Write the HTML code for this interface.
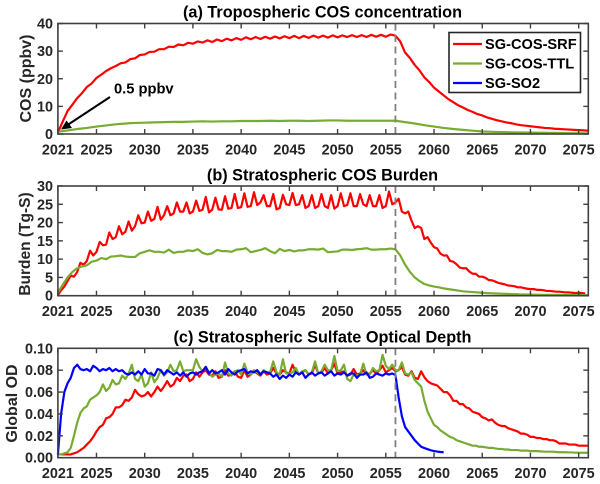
<!DOCTYPE html>
<html><head><meta charset="utf-8"><style>
html,body{margin:0;padding:0;background:#fff;width:600px;height:484px;overflow:hidden}
svg{display:block}
text{font-family:"Liberation Sans",Arial,sans-serif;font-weight:bold}
</style></head><body>
<svg id="fig" width="600" height="484" viewBox="0 0 600 484" xmlns="http://www.w3.org/2000/svg"></svg>
<script>
var xTickYears = [2021,2025,2030,2035,2040,2045,2050,2055,2060,2065,2070,2075];
var aTicks = ['0','10','20','30','40'];
var bTicks = ['0','5','10','15','20','25','30'];
var cTicks = ['0.00','0.02','0.04','0.06','0.08','0.10'];
var aTitle = '(a) Tropospheric COS concentration';
var bTitle = '(b) Stratospheric COS Burden';
var cTitle = '(c) Stratospheric Sulfate Optical Depth';
var eventYear = 2056;

// Panel a: half-yearly from 2021
var aSrf = [.5,4.5,8.3,10.6,13,14.8,17,18.3,20.3,21.5,22.8,23.8,24.6,25.6,25.9,27.1,27.4,28.6,28.8,29.7,29.8,30.7,30.7,31.6,31.5,32.4,32.1,33,32.7,33.5,33.1,33.9,33.3,34.2,33.6,34.5,33.9,34.7,34.1,35,34.3,35.1,34.4,35.2,34.5,35.3,34.6,35.4,34.7,35.5,34.7,35.5,34.8,35.6,34.9,35.6,34.9,35.7,35,35.7,35.1,35.8,35.1,35.8,35.1,35.9,35.2,35.9,35.2,36,35.6,33.5,29.5,27.5,25,23,20.5,18.8,16.8,15.4,14,12.6,11.5,10.4,9.6,8.7,8,7.2,6.7,6,5.5,5,4.6,4.2,3.9,3.5,3.2,3,2.8,2.6,2.4,2.2,2.1,1.9,1.8,1.7,1.6,1.5,1.4,1.3,1.2];
// Panel a: yearly from 2021
var aTtl = [.8,1.3,1.8,2.2,2.7,3.1,3.5,3.8,4,4.1,4.2,4.3,4.4,4.4,4.5,4.6,4.5,4.6,4.6,4.7,4.7,4.7,4.8,4.7,4.8,4.8,4.7,4.8,4.9,4.9,4.8,4.8,4.8,4.8,4.8,4.8,4.3,3.8,3.2,2.7,2.2,1.8,1.5,1.2,.9,.8,.7,.6,.55,.5,.45,.4,.35,.3,.3,.25];

// Panel b red: three samples per year from 2021
var bSrf = [.2,1.5,2.5,4,5.5,5.2,6.5,9,8.5,9.5,12.3,11,12,14.7,13.8,14,17.3,15.5,16,19,16.8,17.5,20.3,17.8,19,22,19.8,20,23,20.5,21,24.3,20.8,22,24.5,22,22.5,25.5,23,23,25.5,22.5,23,26,23.2,23.5,27,22.8,23.5,26.8,23.6,23.5,27.2,23.8,24,27.8,24,24.2,28,24.3,24.5,28.3,24.8,25.5,27.5,24.5,24.5,27.8,23.6,24,27.6,25,24.8,28.1,24.8,25,27.5,24,24.5,27.5,24,24.5,27.8,24.5,24,27.5,23.8,24.5,28,24.5,24.8,28,24.5,24.5,27.8,25,24.5,27.5,24.5,24.5,27.5,24,24.5,28.5,25,25.5,26.5,23,22.5,23,20.5,18.5,19,18.5,15.5,16,14.5,13.3,12.9,11.5,11,11,9.5,9.3,8.6,7.7,7.5,7.5,6.6,6,6,5.2,5.2,4.9,4.3,4.2,3.9,3.5,3.3,3.1,2.8,2.7,2.6,2.3,2.3,2.1,1.9,1.8,1.8,1.6,1.6,1.5,1.3,1.3,1.2,1.1,1.1,1,.9,.9,.8,.7,.8,.7,.6];
// Panel b green: half-yearly from 2021
var bTtl = [.8,3,5,6.5,7.5,8,8.3,9.3,9.6,10.3,10,10.7,10.8,11,10.7,10.6,10.6,11.6,12,12.4,12,12,11.8,12.6,11.7,12,12,12.4,12.2,12.7,11.7,11.3,11.6,12.5,12.2,12.2,12,12.6,12.7,13,11.9,12.2,12.5,13,12.2,11.6,12.8,12.2,12.5,12.1,12.4,12.4,12.7,12.7,12.6,12.9,11.9,12,12.1,12.6,12.6,12.5,12.7,12.8,13,12.6,12.6,12.7,12.7,12.9,12.7,11,8.5,6.5,5,4,3.2,2.8,2.5,2.3,2,1.8,1.6,1.4,1.2,1.1,1,.9,.8,.7,.65,.6,.55,.5,.45,.4,.35,.33,.3,.28,.25,.24,.22,.2,.2,.18,.17,.16,.15,.15,.14];

// Panel c: three samples per year from 2021
var cSrf = [.003,.003,.003,.003,.003,.004,.005,.007,.009,.012,.015,.019,.024,.028,.03,.036,.037,.04,.046,.046,.048,.053,.052,.055,.062,.058,.056,.057,.06,.056,.06,.065,.061,.065,.07,.065,.067,.073,.07,.075,.076,.07,.072,.078,.074,.078,.08,.076,.075,.079,.073,.074,.08,.075,.076,.079,.074,.073,.08,.074,.076,.079,.077,.075,.079,.076,.077,.082,.077,.076,.08,.078,.077,.085,.078,.076,.078,.08,.076,.077,.085,.077,.078,.082,.077,.08,.086,.077,.078,.079,.075,.076,.081,.076,.077,.08,.076,.077,.08,.077,.08,.084,.078,.08,.082,.079,.08,.083,.076,.075,.079,.073,.072,.079,.0735,.07,.068,.067,.066,.063,.06,.06,.057,.052,.052,.049,.049,.046,.045,.042,.041,.04,.037,.036,.034,.035,.032,.03,.029,.029,.027,.026,.025,.024,.022,.022,.021,.019,.019,.018,.018,.017,.017,.016,.016,.015,.013,.013,.013,.012,.012,.012,.011,.011,.011,.011];
var cTtl = [.003,.003,.004,.005,.009,.02,.032,.041,.045,.047,.053,.055,.057,.06,.067,.061,.064,.071,.067,.068,.075,.072,.077,.085,.072,.07,.076,.065,.068,.078,.069,.073,.08,.075,.078,.085,.079,.08,.088,.079,.08,.08,.08,.09,.083,.079,.083,.078,.074,.076,.077,.074,.087,.077,.075,.079,.08,.076,.086,.078,.076,.08,.078,.076,.08,.078,.078,.088,.078,.076,.09,.077,.077,.078,.082,.076,.079,.08,.076,.078,.088,.077,.079,.085,.08,.08,.093,.079,.08,.085,.072,.07,.076,.075,.076,.086,.076,.076,.082,.079,.08,.094,.084,.081,.085,.08,.08,.087,.077,.076,.078,.071,.068,.065,.052,.042,.036,.03,.028,.025,.023,.021,.019,.018,.016,.015,.014,.013,.012,.011,.011,.01,.01,.0095,.009,.009,.0085,.008,.008,.0075,.0075,.007,.007,.007,.0065,.0065,.0065,.006,.006,.006,.0058,.0056,.0055,.0055,.0055,.0052,.005,.005,.005,.0048,.0048,.0046,.0046,.0045,.0045,.0045];
var cSo2 = [.003,.04,.06,.068,.073,.082,.085,.081,.08,.081,.079,.084,.082,.079,.081,.08,.082,.079,.081,.079,.08,.077,.076,.078,.076,.079,.076,.081,.077,.077,.075,.081,.08,.076,.08,.078,.076,.078,.075,.078,.074,.077,.078,.076,.078,.079,.083,.077,.08,.077,.078,.08,.076,.081,.078,.076,.079,.08,.081,.077,.079,.078,.08,.076,.079,.078,.077,.074,.076,.072,.075,.073,.076,.074,.078,.076,.078,.073,.076,.078,.075,.077,.078,.075,.077,.079,.075,.077,.076,.078,.075,.077,.077,.073,.076,.076,.078,.073,.074,.077,.076,.075,.077,.076,.077,.0756,.055,.038,.028,.024,.02,.016,.013,.01,.0088,.0078,.0068,.0061,.0056,.0052,.005];

var legendNames = ['SG-COS-SRF','SG-COS-TTL','SG-SO2'];
var RED = '#ff0000', GREEN = '#77ac30', BLUE = '#0000ff';
var svg = document.getElementById('fig');
var NS = 'http://www.w3.org/2000/svg';
var X0 = 57.9, XPY = 9.644;
function xOf(year){ return X0 + (year - 2021) * XPY; }

function mk(parent, tag, attrs, txt){
  var e = document.createElementNS(NS, tag);
  for (var k in attrs) e.setAttribute(k, attrs[k]);
  if (txt !== undefined) e.textContent = txt;
  parent.appendChild(e);
  return e;
}

function drawPanel(id, top, bottom, ymax, ticks, title, titleY, ylabel, ylabelX, ylabelY, ylabelSize, series){
  var left = xOf(2021), right = xOf(2076);
  var yOf = function(v){ return bottom - (v / ymax) * (bottom - top); };
  var g = mk(svg, 'g', {});
  
  

  var t = mk(g, 'text', {x: 322.5, y: titleY, 'text-anchor': 'middle', 'font-size': 16.25, fill: '#000'}, title);
  
  

  var yl = mk(g, 'text', {x: 0, y: 0, transform: 'translate(' + ylabelX + ',' + ylabelY + ') rotate(-90)', 'text-anchor': 'middle', 'font-size': ylabelSize, fill: '#262626'}, ylabel);
  
  

  series.forEach(function(s){
    var pts = s.values.map(function(v, i){
      return xOf(2021 + i * s.step).toFixed(2) + ',' + yOf(v).toFixed(2);
    }).join(' ');
    var p = mk(g, 'polyline', {points: pts, fill: 'none', stroke: s.color, 'stroke-width': 2.2, 'stroke-linejoin': 'round'});
    
    
  });

  var d = mk(g, 'line', {x1: xOf(eventYear), x2: xOf(eventYear), y1: top, y2: bottom, stroke: '#808080', 'stroke-width': 1.8, 'stroke-dasharray': '7 4.5'});
  
  

  var f = mk(g, 'rect', {x: left, y: top, width: right - left, height: bottom - top, fill: 'none', stroke: '#404040', 'stroke-width': 1.6});
  
  

  xTickYears.forEach(function(yr){
    var x = xOf(yr);
    mk(g, 'line', {x1: x, x2: x, y1: bottom, y2: bottom - 5, stroke: '#404040', 'stroke-width': 1.4});
    mk(g, 'line', {x1: x, x2: x, y1: top, y2: top + 5, stroke: '#404040', 'stroke-width': 1.4});
    var l = mk(g, 'text', {x: x, y: bottom + 20.5, 'text-anchor': 'middle', 'font-size': 14.4, fill: '#262626'}, String(yr));
    
    
  });
  ticks.forEach(function(label){
    var y = yOf(parseFloat(label));
    mk(g, 'line', {x1: left, x2: left + 5, y1: y, y2: y, stroke: '#404040', 'stroke-width': 1.4});
    mk(g, 'line', {x1: right, x2: right - 5, y1: y, y2: y, stroke: '#404040', 'stroke-width': 1.4});
    var l = mk(g, 'text', {x: 53, y: y + 5, 'text-anchor': 'end', 'font-size': 14.4, fill: '#262626'}, label);
    
    
  });
}

drawPanel('panel-a', 23.5, 134, 40, aTicks, aTitle, 17.5, 'COS (ppbv)', 31, 78.5, 16, [
  {name:'cos-srf-line', values:aSrf, step:0.5, color:RED},
  {name:'cos-ttl-line', values:aTtl, step:1, color:GREEN}
]);
drawPanel('panel-b', 186, 295.7, 30, bTicks, bTitle, 180.5, 'Burden (Tg-S)', 30, 244, 15.5, [
  {name:'cos-srf-line', values:bSrf, step:1/3, color:RED},
  {name:'cos-ttl-line', values:bTtl, step:0.5, color:GREEN}
]);
drawPanel('panel-c', 348.3, 457.7, 0.1, cTicks, cTitle, 342.5, 'Global OD', 17, 403.5, 16, [
  {name:'cos-srf-line', values:cSrf, step:1/3, color:RED},
  {name:'cos-ttl-line', values:cTtl, step:1/3, color:GREEN},
  {name:'so2-line', values:cSo2, step:1/3, color:BLUE}
]);

// Arrow annotation
var arrow = mk(svg, 'g', {});


mk(arrow, 'line', {x1: 110, y1: 97, x2: 66, y2: 126, stroke: '#000', 'stroke-width': 2});
mk(arrow, 'polygon', {points: '61,129.5 66.5,120.5 72,128', fill: '#000'});
var ann = mk(svg, 'text', {x: 114, y: 93.5, 'font-size': 14.7, fill: '#000'}, '0.5 ppbv');



// Legend
var leg = mk(svg, 'g', {});


mk(leg, 'rect', {x: 449, y: 32.5, width: 131.5, height: 60, fill: '#fff', stroke: '#262626', 'stroke-width': 1.6});
var legColors = [RED, GREEN, BLUE];
legendNames.forEach(function(name, i){
  var cy = 44 + i * 19.5;
  var entry = mk(leg, 'g', {});
  
  
  mk(entry, 'line', {x1: 453, x2: 482, y1: cy, y2: cy, stroke: legColors[i], 'stroke-width': 2.2});
  mk(entry, 'text', {x: 485, y: cy + 5.2, 'font-size': 14.6, fill: '#000'}, name);
});
</script>
</body></html>
